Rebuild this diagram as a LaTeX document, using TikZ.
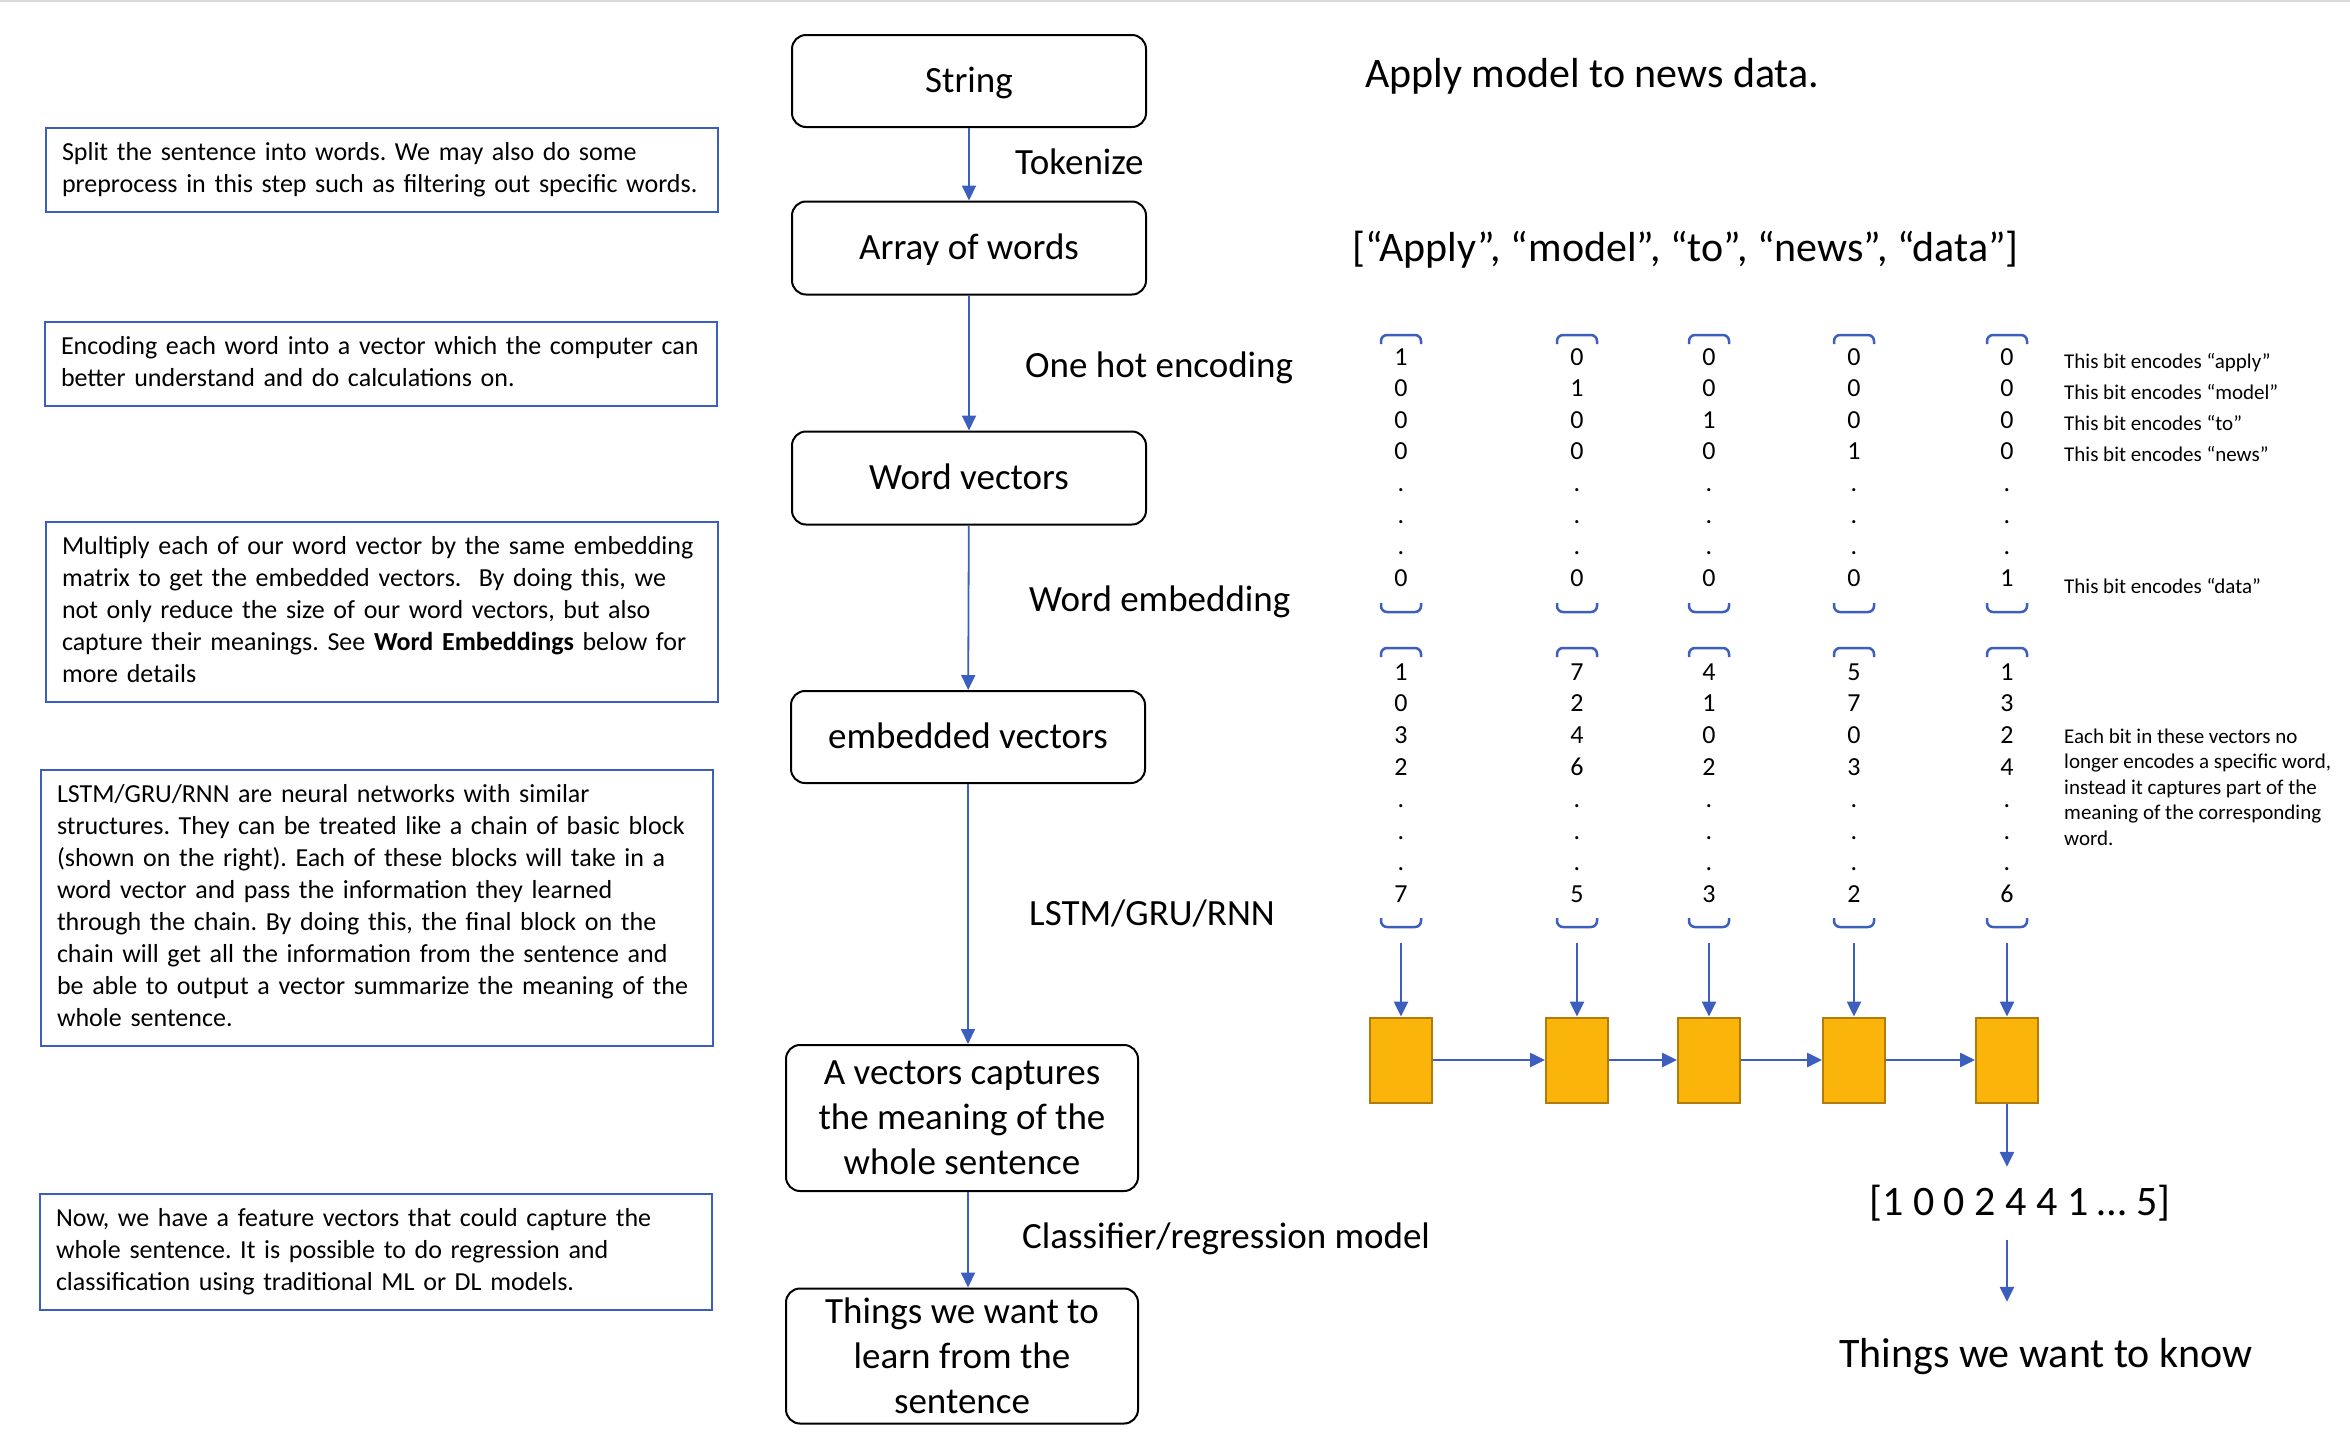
\documentclass[tikz,border=0pt]{standalone}
\usepackage{fontspec}
\setmainfont{Carlito}
\frenchspacing
\usepackage{tikz}
\usetikzlibrary{arrows.meta}
\definecolor{ink}{HTML}{000000}
\definecolor{flow}{HTML}{3B5EBF}
\definecolor{blockfill}{HTML}{FBB40A}
\definecolor{blockedge}{HTML}{B07C0A}
\definecolor{topline}{HTML}{D9D9D9}
\tikzset{
  stage/.style={draw=ink, line width=2pt, rounded corners=14pt, minimum width=354pt, align=center, inner sep=0pt, font=\fontsize{37}{45}\selectfont},
  single/.style={text height=27pt, text depth=5pt},
  note/.style={draw=flow, line width=2pt, anchor=north west, text width=640pt, align=left, inner xsep=16pt, inner ysep=10pt, font=\fontsize{26}{32}\selectfont},
  lab/.style={anchor=base west, inner sep=0pt, font=\fontsize{37}{45}\selectfont},
  big/.style={inner sep=0pt, font=\fontsize{42}{50}\selectfont},
  bit/.style={anchor=base, inner sep=0pt, font=\fontsize{26}{32}\selectfont},
  hint/.style={anchor=base west, inner sep=0pt, font=\fontsize{21}{25.5}\selectfont},
  block/.style={draw=blockedge, fill=blockfill, line width=2pt, minimum width=62pt, minimum height=85pt, inner sep=0pt},
  link/.style={draw=flow, line width=1.8pt, -{Triangle[length=15pt,width=14pt]}},
  chain/.style={link, line width=2.6pt},
  brk/.style={draw=flow, line width=2.5pt, rounded corners=6pt},
}

\begin{document}
\begin{tikzpicture}[x=1pt,y=-1pt]
  \useasboundingbox (0,0) rectangle (2350,1436);
  \draw[draw=topline, line width=2pt] (0,1) -- (2350,1);

  % pipeline
  \node[stage, single, minimum height=92pt] (str) at (969,81) {String};
  \node[stage, single, minimum height=93pt] (arr) at (969,248) {Array of words};
  \node[stage, single, minimum height=93pt] (wv) at (969,478) {Word vectors};
  \node[stage, single, minimum height=92pt] (emb) at (968,737) {embedded vectors};
  \node[stage, minimum width=352pt, minimum height=146pt] (sent) at (962,1118) {A vectors captures\\the meaning of the\\whole sentence};
  \node[stage, minimum width=352pt, minimum height=135pt] (goal) at (962,1356) {Things we want to\\learn from the\\sentence};
  \draw[link] (str) -- (arr);
  \draw[link] (arr) -- (wv);
  \draw[link] (wv) -- (emb);
  \draw[link] (emb.south) -- (emb.south |- sent.north);
  \draw[link] (sent.south -| emb) -- (goal.north -| emb);

  \node[lab] (tok) at (1015,174) {Tokenize};
  \node[lab] (hot) at (1025,377) {One hot encoding};
  \node[lab] (wemb) at (1029,611) {Word embedding};
  \node[lab] (rnn) at (1029,925) {LSTM/GRU/RNN};
  \node[lab] (clf) at (1022,1248) {Classifier/regression model};

  % notes
  \node[note] (n1) at (45,127) {\strut Split the sentence into words. We may also do some\\preprocess in this step such as filtering out specific words.\strut};
  \node[note] (n2) at (44,321) {\strut Encoding each word into a vector which the computer can\\better understand and do calculations on.\strut};
  \node[note] (n3) at (45,521) {\strut Multiply each of our word vector by the same embedding\\matrix to get the embedded vectors.~ By doing this, we\\not only reduce the size of our word vectors, but also\\capture their meanings. See \textbf{Word Embeddings} below for\\more details\strut};
  \node[note] (n4) at (40,769) {\strut LSTM/GRU/RNN are neural networks with similar\\structures. They can be treated like a chain of basic block\\(shown on the right). Each of these blocks will take in a\\word vector and pass the information they learned\\through the chain. By doing this, the final block on the\\chain will get all the information from the sentence and\\be able to output a vector summarize the meaning of the\\whole sentence.\strut};
  \node[note] (n5) at (39,1193) {\strut Now, we have a feature vectors that could capture the\\whole sentence. It is possible to do regression and\\classification using traditional ML or DL models.\strut};

  % example sentence
  \node[big, anchor=base west] (title) at (1365,87) {Apply model to news data.};
  \node[big, anchor=base west] (words) at (1352,261) {[“Apply”, “model”, “to”, “news”, “data”]};

  \foreach \x [count=\c] in {1401,1577,1709,1854,2007} {
    \coordinate (col\c) at (\x,0);
    \draw[brk] (\x-20,344) -- (\x-20,335) -- (\x+20,335) -- (\x+20,344);
    \draw[brk] (\x-20,603) -- (\x-20,612) -- (\x+20,612) -- (\x+20,603);
    \draw[brk] (\x-20,657) -- (\x-20,648) -- (\x+20,648) -- (\x+20,657);
    \draw[brk] (\x-20,918) -- (\x-20,927) -- (\x+20,927) -- (\x+20,918);
    \node[block] (b\c) at (\x,1060) {};
    \coordinate (in\c) at (\x,943);
    \draw[chain] (in\c) -- (b\c);
  }
  \foreach \row [count=\r from 0] in {{1,0,0,0,0},{0,1,0,0,0},{0,0,1,0,0},{0,0,0,1,0},{.,.,.,.,.},{.,.,.,.,.},{.,.,.,.,.},{0,0,0,0,1}} {
    \pgfmathsetmacro\y{365+31.6*\r}
    \foreach \d [count=\c] in \row
      \node[bit] (h\c-\r) at (col\c |- 0,\y) {\d};
  }
  \foreach \row [count=\r from 0] in {{1,7,4,5,1},{0,2,1,7,3},{3,4,0,0,2},{2,6,2,3,4},{.,.,.,.,.},{.,.,.,.,.},{.,.,.,.,.},{7,5,3,2,6}} {
    \pgfmathsetmacro\y{680+31.8*\r}
    \foreach \d [count=\c] in \row
      \node[bit] (e\c-\r) at (col\c |- 0,\y) {\d};
  }
  \foreach \a/\b in {1/2,2/3,3/4,4/5}
    \draw[chain] (b\a) -- (b\b);

  \foreach \t [count=\r from 0] in {apply,model,to,news}
    \node[hint] (enc\r) at (2064,368+31*\r) {This bit encodes “\t”};
  \node[hint] (enc4) at (2064,593) {This bit encodes “data”};
  \node[hint, anchor=north west, align=left] (each) at (2064,725) {\strut Each bit in these vectors no\\longer encodes a specific word,\\instead it captures part of the\\meaning of the corresponding\\word.};

  \node[big, anchor=base, text height=31pt, text depth=8pt, inner ysep=17pt] (res) at (2020,1215) {[1 0 0 2 4 4 1 … 5]};
  \node[big, anchor=base, text height=30pt, text depth=9pt, inner ysep=35pt] (know) at (2046,1367) {Things we want to know};
  \draw[chain] (b5) -- (b5 |- res.north);
  \draw[chain] (res.south -| b5) -- (know.north -| b5);
\end{tikzpicture}
\end{document}
